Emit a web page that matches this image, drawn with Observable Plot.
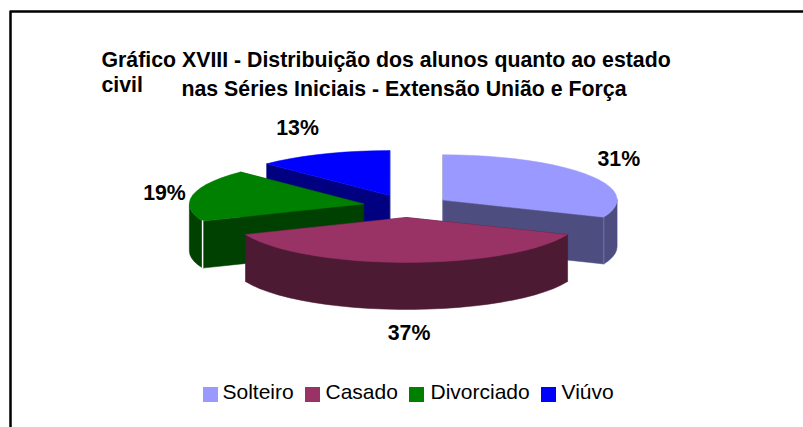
<!DOCTYPE html>
<html lang="pt">
<head>
<meta charset="utf-8">
<script src="https://cdn.jsdelivr.net/npm/d3@7"></script>
<script src="https://cdn.jsdelivr.net/npm/@observablehq/plot@0.6"></script>
<style>html,body{margin:0;padding:0;background:#fff}svg{display:block}</style>
</head>
<body>
<div id="chart"></div>
<script>
// Data
const categories = ["Solteiro", "Casado", "Divorciado", "Viúvo"];
const counts = [5, 6, 3, 2];
const percentLabels = ["31%", "37%", "19%", "13%"];
const topColors = ["#9999FF", "#993366", "#008000", "#0000FF"];
const wallColors = ["#4D4D80", "#4D1A33", "#004000", "#000080"];
const titleLines = [
  {text: "Gráfico XVIII - Distribuição dos alunos quanto ao estado", x: 101, y: 60},
  {text: "civil", x: 101, y: 85},
  {text: "nas Séries Iniciais - Extensão União e Força", x: 181, y: 89}
];

// Layout of the projected pie
const center = {x: 406, y: 205.6};
const rx = 174, ry = 45, depth = 47, explode = 44;
const drawOrder = [3, 0, 2, 1];
const labelNudge = [[5, -1], [2.5, -3], [2.5, 3], [-13.5, -1]];
const legendX = [203, 305, 409, 541];
const legendTextX = [222, 325, 430, 561];
const legendBox = 15, legendY = 387;

const total = d3.sum(counts);
let cumulative = 0;
const slices = counts.map((v, i) => {
  const a0 = cumulative / total * 2 * Math.PI;
  cumulative += v;
  const a1 = cumulative / total * 2 * Math.PI;
  const mid = (a0 + a1) / 2;
  return {
    i, v, a0, a1, mid,
    cx: center.x + explode * Math.sin(mid),
    cy: center.y - explode * (ry / rx) * Math.cos(mid)
  };
});

function rim(s, a, drop = 0) {
  return {x: s.cx + rx * Math.sin(a), y: s.cy - ry * Math.cos(a) + drop};
}
function arc(s, from, to, drop = 0) {
  const n = Math.max(2, Math.round((to - from) / (Math.PI / 36)));
  return d3.range(n + 1).map(k => rim(s, from + (to - from) * k / n, drop));
}
const apex = (s, drop = 0) => ({x: s.cx, y: s.cy + drop});

const polygon = (points, fill) =>
  Plot.line(points, {x: "x", y: "y", fill, stroke: fill, strokeWidth: 0.5, curve: "linear-closed"});

const pieMarks = drawOrder.flatMap(i => {
  const s = slices[i];
  const wall = wallColors[i];
  const marks = [
    polygon([apex(s), rim(s, s.a0), rim(s, s.a0, depth), apex(s, depth)], wall),
    polygon([apex(s), rim(s, s.a1), rim(s, s.a1, depth), apex(s, depth)], wall)
  ];
  // Outer wall: only the part of the rim that faces the viewer
  const from = Math.max(s.a0, Math.PI / 2), to = Math.min(s.a1, 3 * Math.PI / 2);
  if (to > from) marks.push(polygon([...arc(s, from, to), ...arc(s, from, to, depth).reverse()], wall));
  marks.push(polygon([apex(s), ...arc(s, s.a0, s.a1)], topColors[i]));
  if (i === 0) marks.push(Plot.line([rim(s, s.a1), rim(s, s.a1, depth)], {x: "x", y: "y", stroke: "#7A7AB8", strokeWidth: 0.8}));
  if (i === 2) marks.push(Plot.line([rim(s, s.a0), rim(s, s.a0, depth)], {x: "x", y: "y", stroke: "#fff", strokeWidth: 1.5}));
  return marks;
});

const labels = slices.map(s => ({
  text: percentLabels[s.i],
  x: s.cx + 1.18 * rx * Math.sin(s.mid) + labelNudge[s.i][0],
  y: s.cy - 1.6 * ry * Math.cos(s.mid) + (Math.cos(s.mid) < -0.5 ? depth : 0) + labelNudge[s.i][1]
}));

const legendRows = categories.map((name, i) => ({
  name, fill: topColors[i],
  x1: legendX[i], x2: legendX[i] + legendBox,
  y1: legendY, y2: legendY + legendBox,
  tx: legendTextX[i]
}));

const font = "'Liberation Sans', Arial, sans-serif";
const plot = Plot.plot({
  width: 803, height: 427,
  margin: 0,
  style: {background: "#fff", fontFamily: font},
  x: {domain: [0, 803], range: [0, 803], axis: null},
  y: {domain: [0, 427], range: [0, 427], axis: null},
  marks: [
    Plot.line([{x: 10, y: 427}, {x: 10, y: 11}, {x: 803, y: 11}], {x: "x", y: "y", stroke: "#000", strokeWidth: 2.5}),
    ...pieMarks,
    Plot.text(titleLines, {x: "x", y: "y", text: "text", textAnchor: "start", fontSize: 21.3, fontWeight: "bold", fill: "#000", fontFamily: font}),
    Plot.text(labels, {x: "x", y: "y", text: "text", fontSize: 21.3, fontWeight: "bold", fill: "#000", fontFamily: font}),
    Plot.rect(legendRows, {x1: "x1", x2: "x2", y1: "y1", y2: "y2", fill: "fill"}),
    Plot.text(legendRows, {x: "tx", y: () => legendY + 5, text: "name", textAnchor: "start", fontSize: 21, fill: "#000", fontFamily: font})
  ]
});
document.getElementById("chart").append(plot);
</script>
</body>
</html>
